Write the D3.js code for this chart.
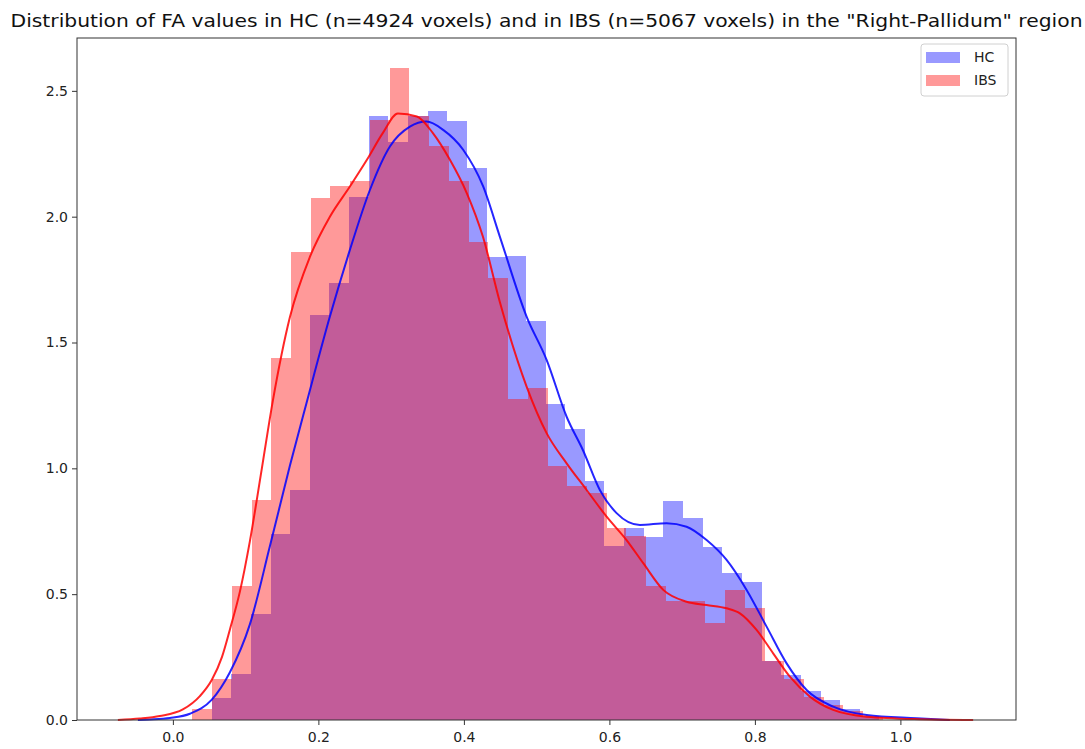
<!DOCTYPE html>
<html>
<head>
<meta charset="utf-8">
<script src="https://cdn.jsdelivr.net/npm/d3@7"></script>
<style>
  body { margin: 0; background: #fff; }
  svg { font-family: "DejaVu Sans", sans-serif; }
</style>
</head>
<body>
<div id="chart"></div>
<script>
const width = 1085;
const height = 749;

const title = 'Distribution of FA values in HC (n=4924 voxels) and in IBS (n=5067 voxels) in the "Right-Pallidum" region';

// histogram bins (density)
const hcBinStart = 0.0532;
const hcBinWidth = 0.0270;
const hcDensity = [0.087, 0.183, 0.42, 0.74, 0.912, 1.611, 1.738, 2.08, 2.40, 2.296,
  2.40, 2.418, 2.38, 2.193, 1.84, 1.845, 1.586, 1.257, 1.157, 0.949,
  0.692, 0.763, 0.726, 0.870, 0.803, 0.688, 0.586, 0.548, 0.236, 0.179,
  0.115, 0.08, 0.045, 0.015];

const ibsBinStart = 0.0268;
const ibsBinWidth = 0.02712;
const ibsDensity = [0.044, 0.162, 0.532, 0.874, 1.438, 1.861, 2.074, 2.121, 2.142, 2.385,
  2.59, 2.40, 2.28, 2.14, 1.90, 1.755, 1.277, 1.32, 1.008, 0.928,
  0.903, 0.763, 0.730, 0.531, 0.472, 0.472, 0.384, 0.515, 0.447, 0.236,
  0.162, 0.09, 0.06, 0.035, 0.012];

// kde curves [fa, density]
const hcKde = [[-0.0481, 0], [-0.0316, 0.002], [-0.0041, 0.008], [0.0234, 0.025], [0.0532, 0.08],
  [0.0784, 0.19], [0.1058, 0.38], [0.1333, 0.69], [0.1608, 1.01], [0.1837, 1.26],
  [0.2158, 1.603], [0.2433, 1.868], [0.2708, 2.106], [0.2983, 2.279], [0.3258, 2.358],
  [0.3487, 2.378], [0.3715, 2.345], [0.3990, 2.266], [0.4265, 2.12], [0.4495, 1.92],
  [0.4862, 1.603], [0.5137, 1.431], [0.5412, 1.205], [0.5640, 1.07], [0.5869, 0.914],
  [0.6099, 0.822], [0.6419, 0.775], [0.6786, 0.782], [0.7061, 0.768], [0.7336, 0.715],
  [0.7611, 0.636], [0.7886, 0.517], [0.8161, 0.371], [0.8436, 0.225], [0.8711, 0.119],
  [0.9076, 0.053], [0.9536, 0.02], [1.0223, 0.007], [1.068, 0]];

const ibsKde = [[-0.0756, 0], [-0.0454, 0.006], [-0.0179, 0.016], [0.0137, 0.042], [0.0371, 0.095],
  [0.0536, 0.16], [0.0674, 0.25], [0.0784, 0.36], [0.0921, 0.51], [0.1058, 0.71],
  [0.1223, 1.00], [0.1375, 1.27], [0.1608, 1.60], [0.1883, 1.84], [0.2158, 2.00],
  [0.2433, 2.12], [0.2667, 2.226], [0.2887, 2.333], [0.3093, 2.41], [0.3354, 2.398],
  [0.3574, 2.332], [0.3808, 2.226], [0.4041, 2.093], [0.4261, 1.921], [0.4495, 1.66],
  [0.4862, 1.325], [0.5137, 1.14], [0.5412, 1.02], [0.5687, 0.914], [0.5962, 0.808],
  [0.6236, 0.715], [0.6465, 0.623], [0.6740, 0.517], [0.7061, 0.47], [0.7336, 0.457],
  [0.7611, 0.444], [0.7794, 0.424], [0.8023, 0.358], [0.8251, 0.265], [0.8481, 0.172],
  [0.8756, 0.093], [0.9076, 0.04], [0.9536, 0.013], [1.0268, 0.003], [1.10, 0]];

const xTicks = [0.0, 0.2, 0.4, 0.6, 0.8, 1.0];
const yTicks = [0.0, 0.5, 1.0, 1.5, 2.0, 2.5];

const margin = { top: 38, right: 69, bottom: 29, left: 77 };

const svg = d3.select("#chart")
  .append("svg")
  .attr("width", width)
  .attr("height", height);

const x = d3.scaleLinear()
  .domain([-0.1318, 1.1589])
  .range([margin.left, width - margin.right]);

const y = d3.scaleLinear()
  .domain([0, 2.71])
  .range([height - margin.bottom, margin.top]);

const series = [
  { name: "HC", start: hcBinStart, step: hcBinWidth, dens: hcDensity, kde: hcKde, color: "blue" },
  { name: "IBS", start: ibsBinStart, step: ibsBinWidth, dens: ibsDensity, kde: ibsKde, color: "red" }
];

// bars first, lines on top (matplotlib zorder)
series.forEach(s => {
  svg.append("g")
    .selectAll("rect")
    .data(s.dens)
    .enter()
    .append("rect")
    .attr("x", (d, i) => x(s.start + i * s.step))
    .attr("width", (d, i) => x(s.start + (i + 1) * s.step) - x(s.start + i * s.step))
    .attr("y", d => y(d))
    .attr("height", d => y(0) - y(d))
    .attr("fill", s.color)
    .attr("fill-opacity", 0.4)
    .attr("shape-rendering", "crispEdges");
});

const line = d3.line()
  .x(d => x(d[0]))
  .y(d => y(d[1]))
  .curve(d3.curveMonotoneX);

series.forEach(s => {
  svg.append("path")
    .datum(s.kde)
    .attr("d", line)
    .attr("fill", "none")
    .attr("stroke", s.color)
    .attr("stroke-opacity", 0.85)
    .attr("stroke-width", 2);
});

// axes
const xAxis = svg.append("g")
  .attr("transform", `translate(0,${height - margin.bottom})`)
  .call(d3.axisBottom(x).tickValues(xTicks).tickFormat(d3.format(".1f")).tickSize(5).tickSizeOuter(0));

const yAxis = svg.append("g")
  .attr("transform", `translate(${margin.left},0)`)
  .call(d3.axisLeft(y).tickValues(yTicks).tickFormat(d3.format(".1f")).tickSize(5).tickSizeOuter(0));

[xAxis, yAxis].forEach(a => {
  a.select(".domain").remove();
  a.selectAll("line").attr("stroke", "#333");
  a.selectAll("text")
    .attr("font-size", "14px")
    .attr("fill", "#222")
    .attr("font-family", "DejaVu Sans, sans-serif");
});
xAxis.selectAll("text").attr("dy", "1.0em");
yAxis.selectAll("text").attr("x", -9);

// frame
svg.append("rect")
  .attr("x", margin.left)
  .attr("y", margin.top)
  .attr("width", width - margin.left - margin.right)
  .attr("height", height - margin.top - margin.bottom)
  .attr("fill", "none")
  .attr("stroke", "#333")
  .attr("stroke-width", 1);

// title
svg.append("text")
  .attr("x", (margin.left + width - margin.right) / 2)
  .attr("y", 27)
  .attr("text-anchor", "middle")
  .attr("font-size", "18px")
  .attr("fill", "#111")
  .attr("textLength", 1072)
  .attr("lengthAdjust", "spacingAndGlyphs")
  .text(title);

// legend
const legend = svg.append("g");
legend.append("rect")
  .attr("x", 921)
  .attr("y", 44)
  .attr("width", 87)
  .attr("height", 52)
  .attr("rx", 3)
  .attr("fill", "white")
  .attr("fill-opacity", 0.8)
  .attr("stroke", "#d0d0d0");

series.forEach((s, i) => {
  legend.append("rect")
    .attr("x", 926)
    .attr("y", 52 + i * 23)
    .attr("width", 34)
    .attr("height", 11)
    .attr("fill", s.color)
    .attr("fill-opacity", 0.4);
  legend.append("text")
    .attr("x", 974)
    .attr("y", 57.5 + i * 23)
    .attr("dy", "0.35em")
    .attr("font-size", "14px")
    .attr("fill", "#222")
    .text(s.name);
});
</script>
</body>
</html>
